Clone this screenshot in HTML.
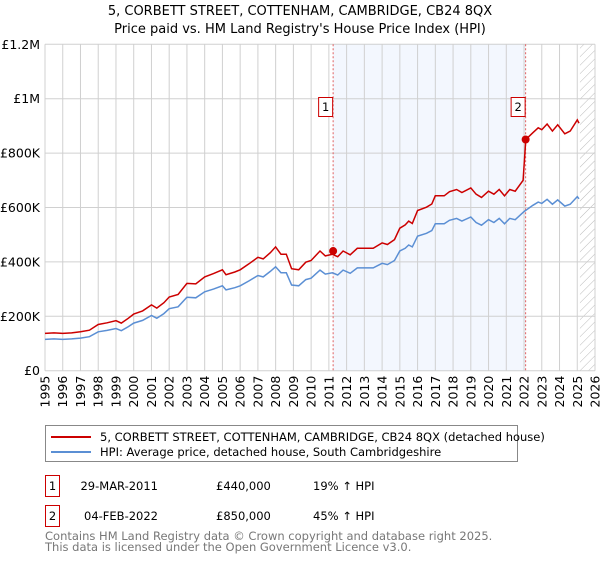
<!DOCTYPE html>
<html><head><meta charset="utf-8">
<style>
body{margin:0;background:#fff;font-family:"DejaVu Sans","Liberation Sans",sans-serif;}
svg text{font-family:"DejaVu Sans","Liberation Sans",sans-serif;}
</style></head>
<body>
<svg id="chart" width="600" height="560" xmlns="http://www.w3.org/2000/svg">
<defs>
<pattern id="hatch" patternUnits="userSpaceOnUse" width="6" height="6" patternTransform="rotate(45)">
<line x1="0" y1="0" x2="0" y2="6" stroke="#bbb" stroke-width="1"/>
</pattern>
</defs>
<text x="300" y="15" text-anchor="middle" font-size="13" fill="#000">5, CORBETT STREET, COTTENHAM, CAMBRIDGE, CB24 8QX</text>
<text x="300" y="33" text-anchor="middle" font-size="13" fill="#000">Price paid vs. HM Land Registry's House Price Index (HPI)</text>
<g id="plot"></g>
<g>
<rect x="45.5" y="425.5" width="472" height="36" fill="#fff" stroke="#888"/>
<line x1="51" y1="437" x2="91" y2="437" stroke="#cc0000" stroke-width="2"/>
<text x="100" y="441" font-size="11.5">5, CORBETT STREET, COTTENHAM, CAMBRIDGE, CB24 8QX (detached house)</text>
<line x1="51" y1="452" x2="91" y2="452" stroke="#5b8fd4" stroke-width="2"/>
<text x="100" y="456" font-size="11.5">HPI: Average price, detached house, South Cambridgeshire</text>
</g>
<g font-size="11.5">
<rect x="45.5" y="475.5" width="14" height="21" fill="none" stroke="#cc0000"/>
<text x="52.5" y="490" text-anchor="middle">1</text>
<text x="158" y="490" text-anchor="end">29-MAR-2011</text>
<text x="216" y="490">£440,000</text>
<text x="313" y="490">19% ↑ HPI</text>
</g>
<g font-size="11.5">
<rect x="45.5" y="505.5" width="14" height="21" fill="none" stroke="#cc0000"/>
<text x="52.5" y="520" text-anchor="middle">2</text>
<text x="158" y="520" text-anchor="end">04-FEB-2022</text>
<text x="216" y="520">£850,000</text>
<text x="313" y="520">45% ↑ HPI</text>
</g>
<text x="45" y="540" font-size="11.5" fill="#777">Contains HM Land Registry data © Crown copyright and database right 2025.</text>
<text x="45" y="551" font-size="11.5" fill="#777">This data is licensed under the Open Government Licence v3.0.</text>
</svg>
<script>
const hpiYears=[1995,1995.5,1996,1996.5,1997,1997.5,1998,1998.5,1999,1999.3,1999.7,2000,2000.5,2001,2001.3,2001.7,2002,2002.5,2003,2003.5,2004,2004.5,2005,2005.2,2005.7,2006,2006.5,2007,2007.3,2007.7,2008,2008.3,2008.6,2008.9,2009.3,2009.7,2010,2010.5,2010.8,2011.2,2011.5,2011.8,2012.2,2012.6,2013,2013.5,2014,2014.3,2014.7,2015,2015.3,2015.5,2015.7,2016,2016.5,2016.8,2017,2017.5,2017.8,2018.2,2018.5,2019,2019.3,2019.6,2020,2020.3,2020.6,2020.9,2021.2,2021.5,2022,2022.5,2022.8,2023,2023.3,2023.6,2023.9,2024.3,2024.6,2025,2025.1];
const hpiValues=[115,117,115,117,120,125,143,148,155,147,162,175,185,203,193,210,228,235,270,268,290,300,312,297,305,312,330,350,345,365,382,360,360,315,312,335,340,370,355,360,352,370,358,378,378,378,395,390,405,440,450,462,455,495,505,515,540,540,553,560,550,565,545,535,555,545,560,540,560,555,585,608,620,615,630,612,628,605,612,640,632];
const priceYears=[1995,1995.5,1996,1996.5,1997,1997.5,1998,1998.5,1999,1999.3,1999.7,2000,2000.5,2001,2001.3,2001.7,2002,2002.5,2003,2003.5,2004,2004.5,2005,2005.2,2005.7,2006,2006.5,2007,2007.3,2007.7,2008,2008.3,2008.6,2008.9,2009.3,2009.7,2010,2010.5,2010.8,2011.2,2011.5,2011.8,2012.2,2012.6,2013,2013.5,2014,2014.3,2014.7,2015,2015.3,2015.5,2015.7,2016,2016.5,2016.8,2017,2017.5,2017.8,2018.2,2018.5,2019,2019.3,2019.6,2020,2020.3,2020.6,2020.9,2021.2,2021.5,2021.95,2022.1,2022.5,2022.8,2023,2023.3,2023.6,2023.9,2024.3,2024.6,2025,2025.1];
const priceValues=[137,139,137,139,143,149,170,176,184,175,193,208,220,242,230,250,271,280,321,319,345,357,371,353,363,371,393,417,411,434,455,428,428,375,371,399,405,440,422,428,419,440,426,450,450,450,470,464,482,524,536,550,541,589,601,613,643,643,658,666,655,672,649,637,660,649,666,643,666,660,700,850,875,893,886,907,881,904,871,881,922,910];
const saleYears=[2011.24,2022.09];
const saleValues=[440,850];
const saleLabels=["1","2"];
const yTickValues=[0,200,400,600,800,1000,1200];
const yTickLabels=["£0","£200K","£400K","£600K","£800K","£1M","£1.2M"];
const xTickYears=[1995,1996,1997,1998,1999,2000,2001,2002,2003,2004,2005,2006,2007,2008,2009,2010,2011,2012,2013,2014,2015,2016,2017,2018,2019,2020,2021,2022,2023,2024,2025,2026];

const X0=45,X1=595,Y0=370.7,Y1=44.3;
const xS=y=>X0+(y-1995)/(2026-1995)*(X1-X0);
const yS=v=>Y0-v/1200*(Y0-Y1);
const NS="http://www.w3.org/2000/svg";
const plot=document.getElementById('plot');
function mk(tag,attrs,parent){const e=document.createElementNS(NS,tag);for(const k in attrs)e.setAttribute(k,attrs[k]);(parent||plot).appendChild(e);return e;}

let e=mk('rect',{x:xS(2011.24),y:Y1,width:xS(2022.09)-xS(2011.24),height:Y0-Y1,fill:'#eef3fd',opacity:0.7});


e=mk('rect',{x:xS(2025.15),y:Y1,width:X1-xS(2025.15),height:Y0-Y1,fill:'url(#hatch)'});



xTickYears.forEach(yr=>{
  const g=mk('line',{x1:xS(yr),x2:xS(yr),y1:Y1,y2:Y0,stroke:'#d0d0d0','stroke-width':1});
  
  
  const t=mk('text',{x:0,y:0,'font-size':12.5,'text-anchor':'end',transform:`translate(${xS(yr)+4.5},${Y0+5}) rotate(-90)`});
  t.textContent=yr;
  
  
});
yTickValues.forEach((v,i)=>{
  const g=mk('line',{x1:X0,x2:X1,y1:yS(v),y2:yS(v),stroke:'#d0d0d0','stroke-width':1});
  
  
  const t=mk('text',{x:40,y:yS(v)+4.5,'font-size':12.5,'text-anchor':'end'});
  t.textContent=yTickLabels[i];
  
  
});

saleYears.forEach((yr,i)=>{
  const l=mk('line',{x1:xS(yr),x2:xS(yr),y1:Y1,y2:Y0,stroke:'#e06060','stroke-width':1,'stroke-dasharray':'2,2'});
  
  
});

const pts=(xs,vs)=>xs.map((x,i)=>xS(x).toFixed(1)+','+yS(vs[i]).toFixed(1)).join(' ');
e=mk('polyline',{points:pts(hpiYears,hpiValues),fill:'none',stroke:'#5b8fd4','stroke-width':1.5});


e=mk('polyline',{points:pts(priceYears,priceValues),fill:'none',stroke:'#cc0000','stroke-width':1.5});



saleYears.forEach((yr,i)=>{
  const c=mk('circle',{cx:xS(yr),cy:yS(saleValues[i]),r:4,fill:'#cc0000'});
  
  
  const bx=xS(yr)-8;
  const r=mk('rect',{x:bx-6.5,y:97.5,width:14,height:19,fill:'#fff',stroke:'#cc0000'});
  
  
  const t=mk('text',{x:bx+0.5,y:111,'font-size':11.5,'text-anchor':'middle'});
  t.textContent=saleLabels[i];
  
  
});
</script>
</body></html>
